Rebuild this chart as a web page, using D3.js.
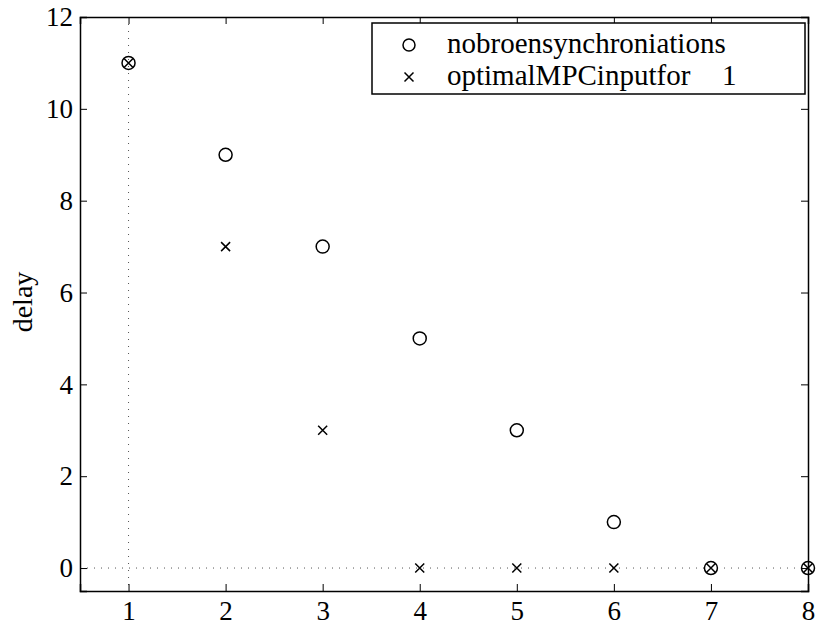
<!DOCTYPE html>
<html>
<head>
<meta charset="utf-8">
<script src="https://cdn.jsdelivr.net/npm/d3@7"></script>
<style>
body{margin:0;background:#fff;}
svg text{font-family:"Liberation Serif","Times New Roman",serif;fill:#000;}
</style>
</head>
<body>
<div id="chart"></div>
<script>
var steps=[1,2,3,4,5,6,7,8];
var noBroken=[11,9,7,5,3,1,0,0];
var optimal=[11,7,3,0,0,0,0,0];
var xTicks=[1,2,3,4,5,6,7,8];
var yTicks=[0,2,4,6,8,10,12];
var legendLabels=["nobroensynchroniations","optimalMPCinputfor"];

var width=817, height=624;
var mLeft=80, mRight=808, mTop=17, mBottom=591;

var svg=d3.select("#chart").append("svg")
    .attr("width",width)
    .attr("height",height);

var x=d3.scaleLinear().domain([0.5,8]).range([mLeft,mRight]);
var y=d3.scaleLinear().domain([-0.5,12]).range([mBottom,mTop]);

// dotted reference lines
svg.append("line")
    .attr("x1",x(1)).attr("x2",x(1))
    .attr("y1",mTop).attr("y2",mBottom)
    .attr("stroke","#555").attr("stroke-width",1)
    .attr("stroke-dasharray","1,6");
svg.append("line")
    .attr("x1",mLeft).attr("x2",mRight)
    .attr("y1",y(0)).attr("y2",y(0))
    .attr("stroke","#555").attr("stroke-width",1)
    .attr("stroke-dasharray","1,6");

// axes, ticks inward
var xb=svg.append("g").attr("transform","translate(0,"+mBottom+")")
    .call(d3.axisBottom(x).tickValues(xTicks).tickSize(-7).tickPadding(10).tickFormat(d3.format("d")));
var xt=svg.append("g").attr("transform","translate(0,"+mTop+")")
    .call(d3.axisTop(x).tickValues(xTicks).tickSize(-7).tickFormat(""));
var yl=svg.append("g").attr("transform","translate("+mLeft+",0)")
    .call(d3.axisLeft(y).tickValues(yTicks).tickSize(-7).tickPadding(7).tickFormat(d3.format("d")));
var yr=svg.append("g").attr("transform","translate("+mRight+",0)")
    .call(d3.axisRight(y).tickValues(yTicks).tickSize(-7).tickFormat(""));

[xb,xt,yl,yr].forEach(function(g){
    g.attr("font-family",null).attr("font-size",null);
    g.select(".domain").attr("stroke","#000").attr("stroke-width",1.5);
    g.selectAll(".tick line").attr("stroke","#000").attr("stroke-width",1);
    g.selectAll("text").style("font-size","27px").attr("fill","#000");
});

svg.append("text")
    .attr("transform","translate(32,302) rotate(-90)")
    .attr("text-anchor","middle")
    .style("font-size","28px")
    .text("delay");

// markers
var pts1=steps.map(function(s,i){return {x:s,y:noBroken[i]};});
var pts2=steps.map(function(s,i){return {x:s,y:optimal[i]};});

svg.selectAll(".circ").data(pts1).enter().append("circle")
    .attr("class","circ")
    .attr("cx",d=>x(d.x)).attr("cy",d=>y(d.y))
    .attr("r",6.5)
    .attr("fill","none").attr("stroke","#000").attr("stroke-width",1.5);

function cross(g,cx,cy,s){
    g.append("path")
        .attr("d","M"+(cx-s)+","+(cy-s)+"L"+(cx+s)+","+(cy+s)+"M"+(cx-s)+","+(cy+s)+"L"+(cx+s)+","+(cy-s))
        .attr("stroke","#000").attr("stroke-width",1.5).attr("fill","none");
}
pts2.forEach(function(d){ cross(svg,x(d.x),y(d.y),4.5); });

// legend
var lg=svg.append("g");
lg.append("rect")
    .attr("x",372).attr("y",23).attr("width",433).attr("height",71)
    .attr("fill","#fff").attr("stroke","#000").attr("stroke-width",1.5);
lg.append("circle").attr("cx",409).attr("cy",45).attr("r",6)
    .attr("fill","none").attr("stroke","#000").attr("stroke-width",1.5);
cross(lg,409,77,4.5);
lg.append("text").attr("x",447).attr("y",53).style("font-size","29px").text(legendLabels[0]);
lg.append("text").attr("x",447).attr("y",85).style("font-size","29px").text(legendLabels[1]);
lg.append("text").attr("x",722).attr("y",85).style("font-size","29px").text("1");
</script>
</body>
</html>
